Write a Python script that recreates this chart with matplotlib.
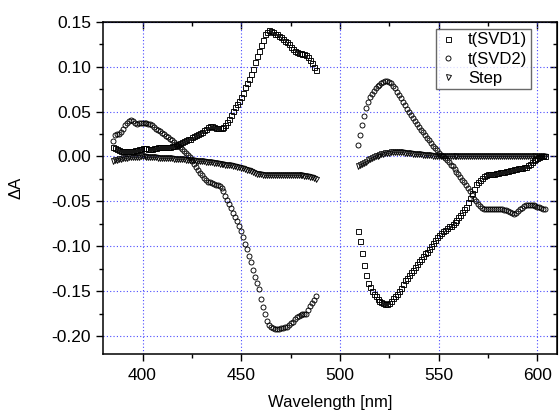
import numpy as np
import matplotlib
matplotlib.use("Agg")
import matplotlib.pyplot as plt
from matplotlib.ticker import MultipleLocator, FormatStrFormatter

plt.rcParams['font.family'] = ['Liberation Sans', 'DejaVu Sans']

# wavelength grids (nm), two measured windows
wl_left = np.arange(385, 489)
wl_right = np.arange(509, 605)

svd1_left = [
    0.011, 0.009, 0.008, 0.007, 0.006, 0.006, 0.006, 0.006, 0.006, 0.006,
    0.006, 0.007, 0.007, 0.008, 0.008, 0.009, 0.009, 0.009, 0.008, 0.008,
    0.008, 0.009, 0.009, 0.010, 0.010, 0.010, 0.011, 0.011, 0.011, 0.011,
    0.012, 0.012, 0.013, 0.014, 0.015, 0.016, 0.017, 0.018, 0.019, 0.020,
    0.022, 0.023, 0.024, 0.025, 0.026, 0.027, 0.029, 0.031, 0.033, 0.034,
    0.034, 0.033, 0.032, 0.032, 0.032, 0.032, 0.033, 0.035, 0.038, 0.042,
    0.046, 0.051, 0.055, 0.058, 0.062, 0.066, 0.071, 0.077, 0.082, 0.086,
    0.092, 0.098, 0.105, 0.112, 0.118, 0.124, 0.130, 0.136, 0.139, 0.141,
    0.140, 0.139, 0.137, 0.136, 0.134, 0.133, 0.131, 0.129, 0.127, 0.125,
    0.122, 0.120, 0.118, 0.116, 0.115, 0.115, 0.114, 0.114, 0.113, 0.111,
    0.108, 0.104, 0.100, 0.096]
svd2_left = [
    0.017, 0.024, 0.025, 0.025, 0.027, 0.031, 0.035, 0.037, 0.039, 0.041,
    0.039, 0.037, 0.036, 0.037, 0.037, 0.037, 0.037, 0.037, 0.036, 0.036,
    0.035, 0.033, 0.031, 0.029, 0.028, 0.026, 0.025, 0.023, 0.022, 0.020,
    0.018, 0.016, 0.014, 0.012, 0.010, 0.008, 0.006, 0.004, 0.002, -0.001,
    -0.005, -0.008, -0.012, -0.015, -0.018, -0.021, -0.024, -0.026, -0.028, -0.029,
    -0.030, -0.031, -0.032, -0.032, -0.033, -0.035, -0.039, -0.044, -0.048, -0.053,
    -0.057, -0.063, -0.068, -0.072, -0.077, -0.083, -0.090, -0.097, -0.103, -0.111,
    -0.118, -0.126, -0.134, -0.141, -0.148, -0.159, -0.168, -0.176, -0.183, -0.188,
    -0.190, -0.191, -0.192, -0.192, -0.192, -0.191, -0.191, -0.190, -0.190, -0.188,
    -0.186, -0.184, -0.181, -0.179, -0.178, -0.177, -0.176, -0.176, -0.175, -0.171,
    -0.167, -0.163, -0.160, -0.156]
step_left = [
    -0.005, -0.004, -0.004, -0.003, -0.003, -0.002, -0.002, -0.002, -0.001, -0.001,
    -0.001, -0.001, -0.001, -0.001, 0.000, 0.000, 0.000, -0.001, -0.001, -0.001,
    -0.001, -0.001, -0.001, -0.002, -0.002, -0.002, -0.002, -0.002, -0.002, -0.002,
    -0.002, -0.003, -0.003, -0.003, -0.003, -0.003, -0.003, -0.004, -0.004, -0.004,
    -0.004, -0.004, -0.005, -0.005, -0.005, -0.005, -0.005, -0.006, -0.006, -0.006,
    -0.006, -0.007, -0.007, -0.007, -0.008, -0.008, -0.008, -0.009, -0.009, -0.010,
    -0.010, -0.011, -0.011, -0.012, -0.012, -0.013, -0.013, -0.014, -0.015, -0.015,
    -0.016, -0.017, -0.018, -0.019, -0.019, -0.020, -0.021, -0.021, -0.021, -0.021,
    -0.021, -0.021, -0.021, -0.021, -0.021, -0.021, -0.021, -0.021, -0.021, -0.021,
    -0.021, -0.021, -0.021, -0.021, -0.021, -0.021, -0.021, -0.022, -0.022, -0.022,
    -0.023, -0.023, -0.024, -0.025]

svd1_right = [
    -0.083, -0.094, -0.108, -0.121, -0.132, -0.141, -0.146, -0.150, -0.153, -0.156,
    -0.159, -0.161, -0.162, -0.163, -0.164, -0.164, -0.163, -0.161, -0.158, -0.155,
    -0.153, -0.150, -0.147, -0.142, -0.138, -0.135, -0.132, -0.129, -0.126, -0.123,
    -0.120, -0.117, -0.114, -0.111, -0.108, -0.106, -0.103, -0.100, -0.096, -0.093,
    -0.090, -0.087, -0.085, -0.083, -0.082, -0.080, -0.078, -0.077, -0.075, -0.073,
    -0.071, -0.068, -0.065, -0.062, -0.059, -0.056, -0.051, -0.046, -0.041, -0.036,
    -0.031, -0.028, -0.026, -0.024, -0.022, -0.021, -0.020, -0.020, -0.019, -0.019,
    -0.018, -0.018, -0.017, -0.017, -0.017, -0.016, -0.016, -0.015, -0.015, -0.014,
    -0.014, -0.013, -0.013, -0.013, -0.012, -0.012, -0.010, -0.008, -0.006, -0.004,
    -0.003, -0.002, -0.001, 0.000, 0.000, 0.001]
svd2_right = [
    0.013, 0.024, 0.035, 0.045, 0.054, 0.061, 0.066, 0.070, 0.073, 0.076,
    0.078, 0.080, 0.082, 0.083, 0.084, 0.084, 0.083, 0.082, 0.079, 0.076,
    0.072, 0.069, 0.065, 0.061, 0.057, 0.053, 0.049, 0.046, 0.043, 0.040,
    0.036, 0.033, 0.030, 0.027, 0.024, 0.021, 0.018, 0.015, 0.012, 0.009,
    0.007, 0.004, 0.002, 0.000, -0.002, -0.004, -0.006, -0.009, -0.011, -0.014,
    -0.017, -0.020, -0.023, -0.026, -0.029, -0.032, -0.035, -0.039, -0.043, -0.047,
    -0.050, -0.053, -0.055, -0.057, -0.058, -0.059, -0.059, -0.058, -0.058, -0.058,
    -0.058, -0.058, -0.059, -0.059, -0.060, -0.060, -0.061, -0.062, -0.063, -0.064,
    -0.063, -0.061, -0.059, -0.057, -0.055, -0.054, -0.054, -0.054, -0.054, -0.054,
    -0.055, -0.056, -0.056, -0.057, -0.058, -0.058]
step_right = [
    -0.011, -0.010, -0.008, -0.007, -0.006, -0.004, -0.003, -0.002, -0.001, 0.000,
    0.001, 0.002, 0.003, 0.003, 0.004, 0.004, 0.004, 0.005, 0.005, 0.005,
    0.005, 0.005, 0.005, 0.005, 0.004, 0.004, 0.004, 0.004, 0.003, 0.003,
    0.003, 0.003, 0.003, 0.002, 0.002, 0.002, 0.002, 0.002, 0.001, 0.001,
    0.001, 0.001, 0.001, 0.001, 0.001, 0.000, 0.000, 0.000, 0.000, 0.000,
    0.000, 0.000, 0.000, 0.000, 0.000, 0.000, 0.000, 0.000, 0.000, 0.000,
    0.000, 0.000, 0.000, 0.000, 0.000, 0.000, 0.000, 0.000, 0.000, 0.000,
    0.000, 0.000, 0.000, 0.000, 0.000, 0.000, 0.000, 0.000, 0.000, 0.000,
    0.000, 0.000, 0.000, 0.000, 0.000, 0.000, 0.000, 0.000, 0.000, 0.000,
    0.000, 0.000, 0.000, 0.000, 0.000, 0.000]

wl = np.concatenate([wl_left, wl_right])
series = [
    ('t(SVD1)', 's', svd1_left + svd1_right),
    ('t(SVD2)', 'o', svd2_left + svd2_right),
    ('Step', 'v', step_left + step_right),
]

fig = plt.figure(figsize=(5.6, 4.12), dpi=100)
ax = fig.add_axes([0.184, 0.141, 0.811, 0.806])

for label, mk, vals in series:
    ax.plot(wl, vals, mk, ls='none', ms=3.6, mfc='none', mec='black',
            mew=0.65, label=label)

ax.set_xlim(380, 610)
ax.set_ylim(-0.22, 0.15)
ax.xaxis.set_major_locator(MultipleLocator(50))
ax.xaxis.set_minor_locator(MultipleLocator(25))
ax.yaxis.set_major_locator(MultipleLocator(0.05))
ax.yaxis.set_minor_locator(MultipleLocator(0.025))
ax.yaxis.set_major_formatter(FormatStrFormatter('%.2f'))
ax.grid(True, which='major', color='#4a4aff', ls=(0, (1, 2)), lw=0.8)

for sp in ax.spines.values():
    sp.set_linewidth(1.1)
ax.tick_params(which='both', direction='out', width=1.0, labelsize=12.5)
ax.tick_params(which='major', length=5)
ax.tick_params(which='minor', length=3)
ax.tick_params(axis='x', pad=5)

top = ax.secondary_xaxis('top')
top.xaxis.set_major_locator(MultipleLocator(50))
top.xaxis.set_minor_locator(MultipleLocator(25))
top.tick_params(which='both', direction='in', labeltop=False, width=1.0)
top.tick_params(which='major', length=5)
top.tick_params(which='minor', length=3)
right = ax.secondary_yaxis('right')
right.yaxis.set_major_locator(MultipleLocator(0.05))
right.yaxis.set_minor_locator(MultipleLocator(0.025))
right.tick_params(which='both', direction='in', labelright=False, width=1.0)
right.tick_params(which='major', length=5)
right.tick_params(which='minor', length=3)

ax.set_xlabel('Wavelength [nm]', fontsize=12, labelpad=9)
ax.set_ylabel('ΔA', fontsize=12, labelpad=20)

leg = ax.legend(loc='upper right', bbox_to_anchor=(0.942, 0.978), fontsize=12,
                frameon=True, fancybox=False, edgecolor='#444444',
                handlelength=1.0, handletextpad=0.7, borderpad=0.2,
                labelspacing=0.25, borderaxespad=0)
leg.get_frame().set_linewidth(1.0)

fig.savefig('out.png', dpi=100)
